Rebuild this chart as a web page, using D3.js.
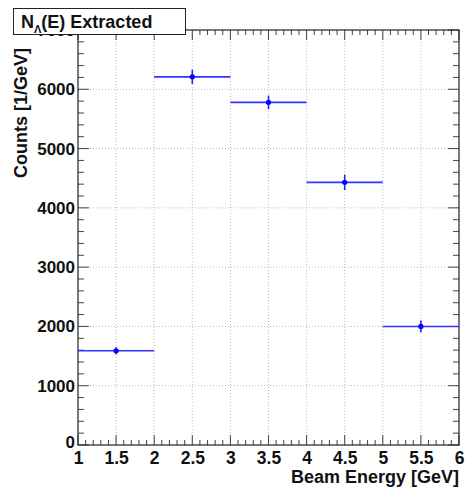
<!DOCTYPE html>
<html>
<head>
<meta charset="utf-8">
<script src="https://cdn.jsdelivr.net/npm/d3@7"></script>
<style>
  body { margin: 0; background: #fff; }
  svg text { font-family: "Liberation Sans", Arial, sans-serif; font-weight: bold; }
</style>
</head>
<body>
<div id="chart"></div>
<script>
// bins of beam energy (GeV) and extracted counts
const binLow = [1, 2, 3, 4, 5];
const binHigh = [2, 3, 4, 5, 6];
const counts = [1590, 6210, 5780, 4430, 2000];
const errors = [60, 120, 115, 130, 100];
const xTicks = [1, 1.5, 2, 2.5, 3, 3.5, 4, 4.5, 5, 5.5, 6];
const yTicks = [0, 1000, 2000, 3000, 4000, 5000, 6000, 7000];

const w = 467, h = 495;
const padL = 78, padR = 459, padT = 30, padB = 445;

const svg = d3.select("#chart").append("svg")
  .attr("width", w).attr("height", h);

const x = d3.scaleLinear().domain([1, 6]).range([padL, padR]);
const y = d3.scaleLinear().domain([0, 7000]).range([padB, padT]);

// grid
svg.append("g").selectAll("line").data(xTicks.slice(1, -1)).enter().append("line")
  .attr("x1", d => x(d)).attr("x2", d => x(d))
  .attr("y1", padT).attr("y2", padB)
  .attr("stroke", "#bbb").attr("stroke-dasharray", "1,2");
svg.append("g").selectAll("line").data(yTicks.slice(1, -1)).enter().append("line")
  .attr("x1", padL).attr("x2", padR)
  .attr("y1", d => y(d)).attr("y2", d => y(d))
  .attr("stroke", "#bbb").attr("stroke-dasharray", "1,2");

// ROOT style mirrored ticks on all sides
const xMinor = d3.range(10, 61).map(d => d / 10);
const yMinor = d3.range(0, 36).map(d => d * 200);
const tickCol = "#444";

function xt(yBase, dir) {
  svg.append("g").selectAll("line").data(xMinor).enter().append("line")
    .attr("x1", d => x(d)).attr("x2", d => x(d))
    .attr("y1", yBase)
    .attr("y2", (d, i) => yBase + dir * (i % 5 === 0 ? 10 : 5))
    .attr("stroke", tickCol);
}
function yt(xBase, dir) {
  svg.append("g").selectAll("line").data(yMinor).enter().append("line")
    .attr("y1", d => y(d)).attr("y2", d => y(d))
    .attr("x1", xBase)
    .attr("x2", (d, i) => xBase + dir * (i % 5 === 0 ? 11 : 6))
    .attr("stroke", tickCol);
}
xt(padB, -1); xt(padT, 1);
yt(padL, 1); yt(padR, -1);

// frame
svg.append("rect")
  .attr("x", padL).attr("y", padT)
  .attr("width", padR - padL).attr("height", padB - padT)
  .attr("fill", "none").attr("stroke", "#222").attr("stroke-width", 1.2);

// axis labels via d3 axes (tick lines hidden, labels only)
const xAxis = d3.axisBottom(x).tickValues(xTicks).tickSize(0).tickPadding(7)
  .tickFormat(d3.format("~g"));
const gx = svg.append("g").attr("transform", `translate(0,${padB})`).call(xAxis);
gx.select(".domain").remove();
gx.selectAll("text").attr("font-size", 17.5).attr("fill", "#111")
  .attr("font-family", "Liberation Sans, Arial, sans-serif");

const yAxis = d3.axisLeft(y).tickValues(yTicks).tickSize(0).tickPadding(3)
  .tickFormat(d3.format("d"));
const gy = svg.append("g").attr("transform", `translate(${padL},0)`).call(yAxis);
gy.select(".domain").remove();
gy.selectAll("text").attr("font-size", 17).attr("fill", "#111")
  .attr("font-family", "Liberation Sans, Arial, sans-serif");
gy.selectAll(".tick").filter(d => d === 0).select("text").attr("dy", "0.15em");

// data: horizontal bin width + vertical error + marker
const pts = svg.append("g");
counts.forEach((c, i) => {
  const xc = (binLow[i] + binHigh[i]) / 2;
  pts.append("line")
    .attr("x1", x(binLow[i])).attr("x2", x(binHigh[i]))
    .attr("y1", y(c)).attr("y2", y(c))
    .attr("stroke", "#3333ff").attr("stroke-width", 1.6);
  pts.append("line")
    .attr("x1", x(xc)).attr("x2", x(xc))
    .attr("y1", y(c - errors[i])).attr("y2", y(c + errors[i]))
    .attr("stroke", "#2222ff").attr("stroke-width", 1.6);
  pts.append("circle")
    .attr("cx", x(xc)).attr("cy", y(c)).attr("r", 2.6)
    .attr("fill", "#0000ff");
});

// axis titles
svg.append("text")
  .attr("x", padR).attr("y", 483)
  .attr("text-anchor", "end").attr("font-size", 18).attr("fill", "#111")
  .text("Beam Energy [GeV]");
svg.append("text")
  .attr("transform", `translate(27,48) rotate(-90)`)
  .attr("text-anchor", "end").attr("font-size", 18).attr("fill", "#111")
  .text("Counts [1/GeV]");

// title box
svg.append("rect")
  .attr("x", 13.5).attr("y", 8.5).attr("width", 172).attr("height", 26)
  .attr("fill", "#fff").attr("stroke", "#222");
const title = svg.append("text")
  .attr("x", 21).attr("y", 28).attr("font-size", 18).attr("fill", "#111");
title.append("tspan").text("N");
title.append("tspan").attr("font-size", 11).attr("dy", 5).text("Λ");
title.append("tspan").attr("dy", -5).text("(E) Extracted");
</script>
</body>
</html>
